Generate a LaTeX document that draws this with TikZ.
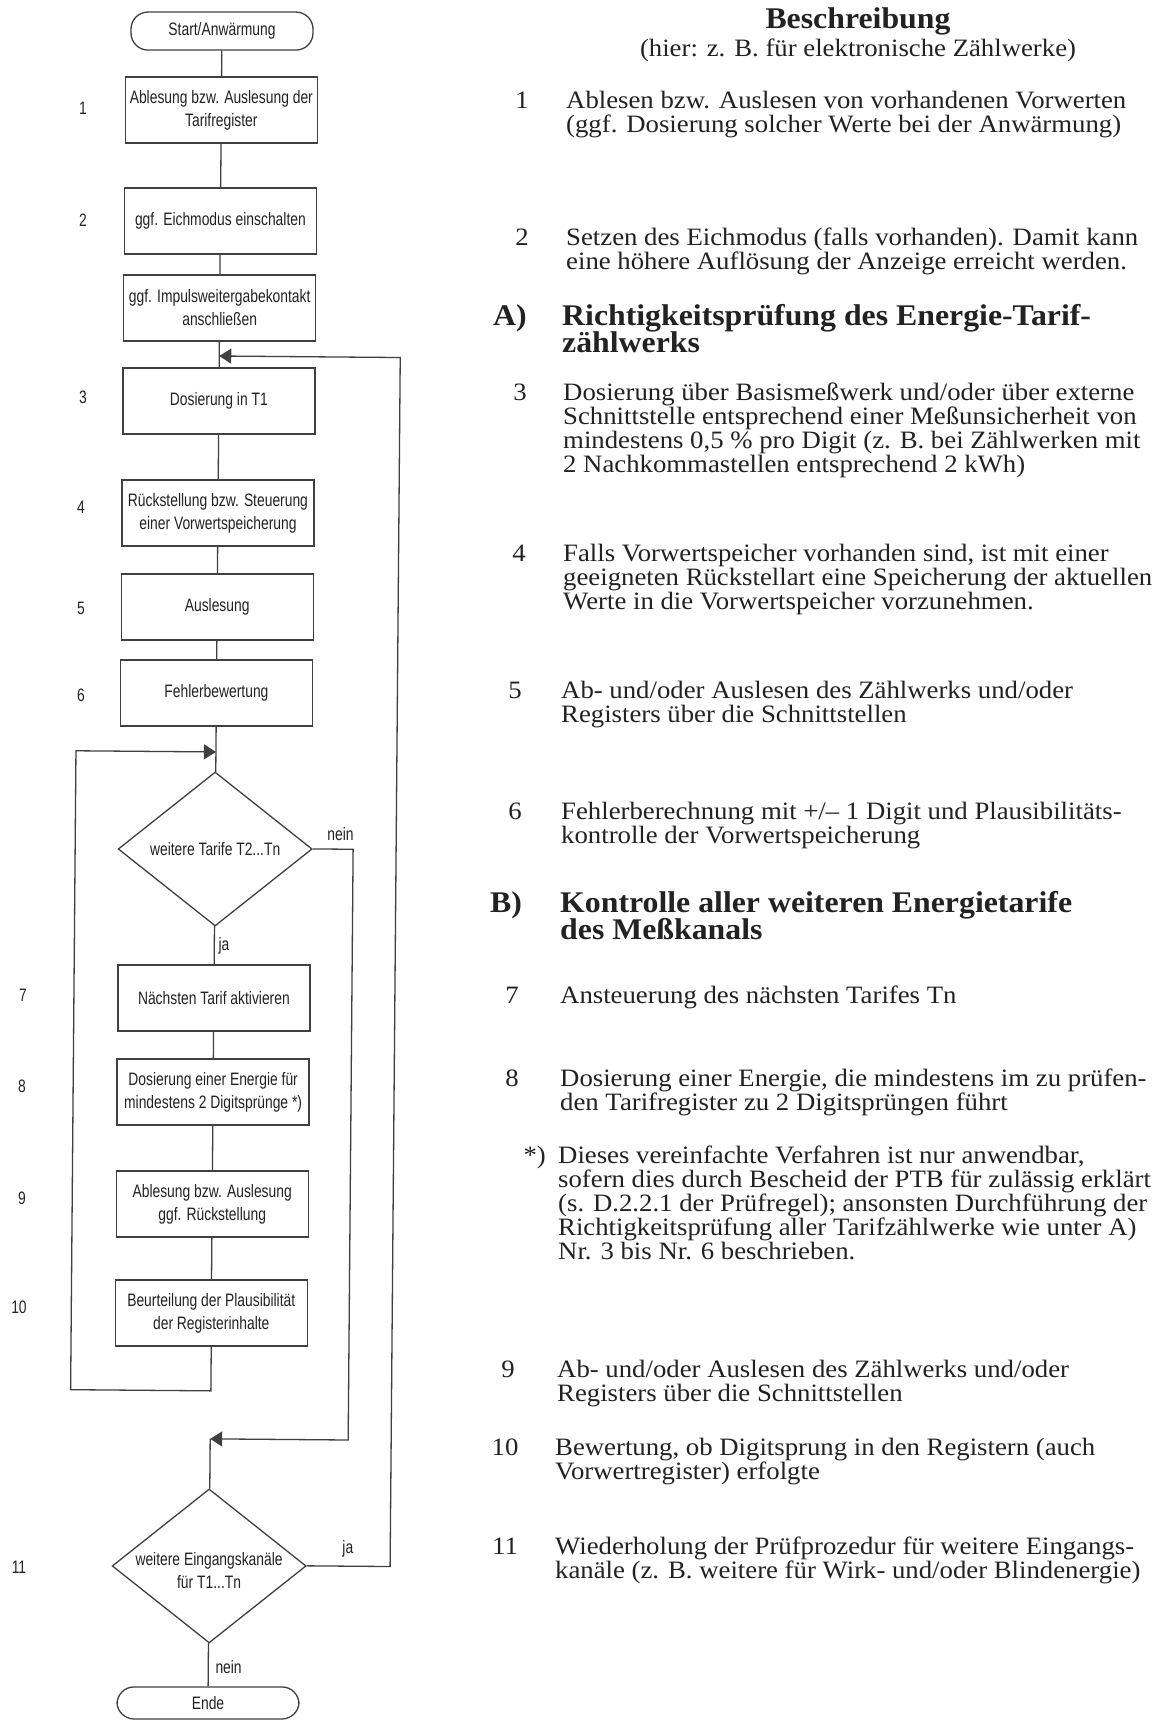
\documentclass[tikz,border=0pt]{standalone}
\usepackage{fontspec}
\setmainfont{Liberation Serif}
\newfontfamily\flowfont[FakeStretch=0.77]{Liberation Sans}
\newfontfamily\bodyfont[FakeStretch=1.07]{Liberation Serif}
\newfontfamily\headfont[FakeStretch=1.06]{Liberation Serif}
\usetikzlibrary{shapes.geometric,arrows.meta}
\definecolor{inkc}{HTML}{222222}
\definecolor{linec}{HTML}{404040}
\newcommand\fl{\flowfont\fontsize{18}{23}\selectfont}
\newcommand\bd{\bodyfont\fontsize{25}{24}\selectfont}
\newcommand\hd{\headfont\bfseries\fontsize{30}{24}\selectfont}
\newcommand\Lines[2][24pt]{\vtop{\baselineskip=#1\lineskiplimit=-100pt\lineskip=0pt #2}}
\tikzset{
  ln/.style={draw=linec, line width=1.3pt},
  arr/.style={-{Triangle[length=12pt,width=15pt]}},
  box/.style={draw=linec, line width=1.3pt, minimum width=192pt, minimum height=66pt,
    align=center, font=\fl, text=inkc, inner sep=2pt},
  term/.style={draw=linec, line width=1.3pt, rounded corners=17pt, minimum width=182pt,
    minimum height=38pt, font=\fl, text=inkc},
  dec/.style={diamond, draw=linec, line width=1.3pt, minimum width=194pt,
    minimum height=154pt, inner sep=0pt},
  ftxt/.style={font=\fl, text=inkc, align=center},
  body/.style={anchor=base west, inner sep=0pt, text=inkc, font=\bd},
  bnum/.style={anchor=base, inner sep=0pt, text=inkc, font=\bd},
  head/.style={anchor=base west, inner sep=0pt, text=inkc, font=\hd},
}
\begin{document}
\begin{tikzpicture}[x=1pt,y=-1pt]
\useasboundingbox (0,0) rectangle (1160,1720);
\fill[white] (0,0) rectangle (1160,1720);

\begin{scope}[rotate around={-0.48:(215,867)}]
% ---------------- flowchart nodes
\node[term] (start) at (215,31) {Start/Anwärmung};
\node[box] (b1) at (215,110) {Ablesung bzw. Auslesung der\\Tarifregister};
\node[box] (b2) at (215,221) {ggf. Eichmodus einschalten};
\node[box] (bI) at (215,308) {ggf. Impulsweitergabekontakt\\anschließen};
\node[box] (b3) at (215,401) {Dosierung in T1};
\node[box] (b4) at (215,513) {Rückstellung bzw. Steuerung\\einer Vorwertspeicherung};
\node[box] (b5) at (215,607) {Auslesung};
\node[box] (b6) at (215,693) {Fehlerbewertung};
\node[dec] (d1) at (215,849) {};
\node[ftxt] (d1t) at (215,849) {weitere Tarife T2...Tn};
\node[box] (b7) at (215,998) {Nächsten Tarif aktivieren};
\node[box] (b8) at (215,1092) {Dosierung einer Energie für\\mindestens 2 Digitsprünge *)};
\node[box] (b9) at (215,1204) {Ablesung bzw. Auslesung\\ggf. Rückstellung};
\node[box] (b10) at (215,1313) {Beurteilung der Plausibilität\\der Registerinhalte};
\node[dec] (d2) at (215,1566) {};
\node[ftxt] (d2t) at (215,1571) {weitere Eingangskanäle\\für T1...Tn};
\node[term, minimum height=32pt] (ende) at (215,1703) {Ende};

% junction points
\coordinate (j0) at (215,356);
\coordinate (r2) at (396,356);
\coordinate (j1) at (215,752);
\coordinate (lt) at (75,752);
\coordinate (lb) at (75,1391);
\coordinate (j2) at (215,1439);
\coordinate (r1) at (353,1439);

% ---------------- connectors
\draw[ln] (start) -- (b1);
\draw[ln] (b1) -- (b2);
\draw[ln] (b2) -- (bI);
\draw[ln] (bI) -- (b3);
\draw[ln] (b3) -- (b4);
\draw[ln] (b4) -- (b5);
\draw[ln] (b5) -- (b6);
\draw[ln] (b6) -- (d1);
\draw[ln] (d1) -- (b7);
\draw[ln] (b7) -- (b8);
\draw[ln] (b8) -- (b9);
\draw[ln] (b9) -- (b10);
\draw[ln] (j2) -- (d2);
\draw[ln] (d2) -- (ende);
\draw[ln,arr] (b10.south) |- (lb) -- (lt) -- (j1);
\draw[ln,arr] (d1.east) -| (r1) -- (j2);
\draw[ln,arr] (d2.east) -| (r2) -- (j0);

% connector labels
\node[ftxt, anchor=west, inner sep=0pt] (lnein1) at (327,833) {nein};
\node[ftxt, anchor=west, inner sep=0pt] (lja1) at (219,946) {ja};
\node[ftxt, anchor=west, inner sep=0pt] (lja2) at (348,1548) {ja};
\node[ftxt, anchor=west, inner sep=0pt] (lnein2) at (222,1667) {nein};
\end{scope}

% step numbers beside flowchart
\node[ftxt] (L1) at (83,108) {1};
\node[ftxt] (L2) at (83,220) {2};
\node[ftxt] (L3) at (83,397) {3};
\node[ftxt] (L4) at (81,507) {4};
\node[ftxt] (L5) at (81,608) {5};
\node[ftxt] (L6) at (81,695) {6};
\node[ftxt] (L7) at (23,995) {7};
\node[ftxt] (L8) at (22,1086) {8};
\node[ftxt] (L9) at (22,1198) {9};
\node[ftxt] (L10) at (19,1307) {10};
\node[ftxt] (L11) at (19,1567) {11};

% ---------------- description column
\node[anchor=base, inner sep=0pt, text=inkc, font=\hd] (hB) at (858,29) {Beschreibung};
\node[bnum] (hsub) at (858,57) {(hier: z. B. für elektronische Zählwerke)};

\node[bnum] (n1) at (522,109) {1};
\node[body] (t1) at (566,109) {\Lines{\hbox{Ablesen bzw. Auslesen von vorhandenen Vorwerten}\hbox{(ggf. Dosierung solcher Werte bei der Anwärmung)}}};

\node[bnum] (n2) at (522,246) {2};
\node[body] (t2) at (566,246) {\Lines{\hbox{Setzen des Eichmodus (falls vorhanden). Damit kann}\hbox{eine höhere Auflösung der Anzeige erreicht werden.}}};

\node[head] (hA) at (493,325) {A)};
\node[head] (hAt) at (562,325) {\Lines[27pt]{\hbox{Richtigkeitsprüfung des Energie-Tarif-}\hbox{zählwerks}}};

\node[bnum] (n3) at (520,400) {3};
\node[body] (t3) at (563,400) {\Lines{\hbox{Dosierung über Basismeßwerk und/oder über externe}\hbox{Schnittstelle entsprechend einer Meßunsicherheit von}\hbox{mindestens 0,5 \% pro Digit (z. B. bei Zählwerken mit}\hbox{2 Nachkommastellen entsprechend 2 kWh)}}};

\node[bnum] (n4) at (519,561) {4};
\node[body] (t4) at (563,561) {\Lines{\hbox{Falls Vorwertspeicher vorhanden sind, ist mit einer}\hbox{geeigneten Rückstellart eine Speicherung der aktuellen}\hbox{Werte in die Vorwertspeicher vorzunehmen.}}};

\node[bnum] (n5) at (515,698) {5};
\node[body] (t5) at (561,698) {\Lines{\hbox{Ab- und/oder Auslesen des Zählwerks und/oder}\hbox{Registers über die Schnittstellen}}};

\node[bnum] (n6) at (515,819) {6};
\node[body] (t6) at (561,819) {\Lines{\hbox{Fehlerberechnung mit +/– 1 Digit und Plausibilitäts-}\hbox{kontrolle der Vorwertspeicherung}}};

\node[head] (hBB) at (490,912) {B)};
\node[head] (hBt) at (560,912) {\Lines[27pt]{\hbox{Kontrolle aller weiteren Energietarife}\hbox{des Meßkanals}}};

\node[bnum] (n7) at (512,1003) {7};
\node[body] (t7) at (560,1003) {Ansteuerung des nächsten Tarifes Tn};

\node[bnum] (n8) at (512,1086) {8};
\node[body] (t8) at (560,1086) {\Lines{\hbox{Dosierung einer Energie, die mindestens im zu prüfen-}\hbox{den Tarifregister zu 2 Digitsprüngen führt}}};

\node[anchor=base east, inner sep=0pt, text=inkc, font=\bd] (nst) at (546,1163) {*)};
\node[body] (tst) at (558,1163) {\Lines{\hbox{Dieses vereinfachte Verfahren ist nur anwendbar,}\hbox{sofern dies durch Bescheid der PTB für zulässig erklärt}\hbox{(s. D.2.2.1 der Prüfregel); ansonsten Durchführung der}\hbox{Richtigkeitsprüfung aller Tarifzählwerke wie unter A)}\hbox{Nr. 3 bis Nr. 6 beschrieben.}}};

\node[bnum] (n9) at (508,1377) {9};
\node[body] (t9) at (557,1377) {\Lines{\hbox{Ab- und/oder Auslesen des Zählwerks und/oder}\hbox{Registers über die Schnittstellen}}};

\node[bnum] (n10) at (505,1455) {10};
\node[body] (t10) at (555,1455) {\Lines{\hbox{Bewertung, ob Digitsprung in den Registern (auch}\hbox{Vorwertregister) erfolgte}}};

\node[bnum] (n11) at (505,1554) {11};
\node[body] (t11) at (555,1554) {\Lines{\hbox{Wiederholung der Prüfprozedur für weitere Eingangs-}\hbox{kanäle (z. B. weitere für Wirk- und/oder Blindenergie)}}};
\end{tikzpicture}
\end{document}
